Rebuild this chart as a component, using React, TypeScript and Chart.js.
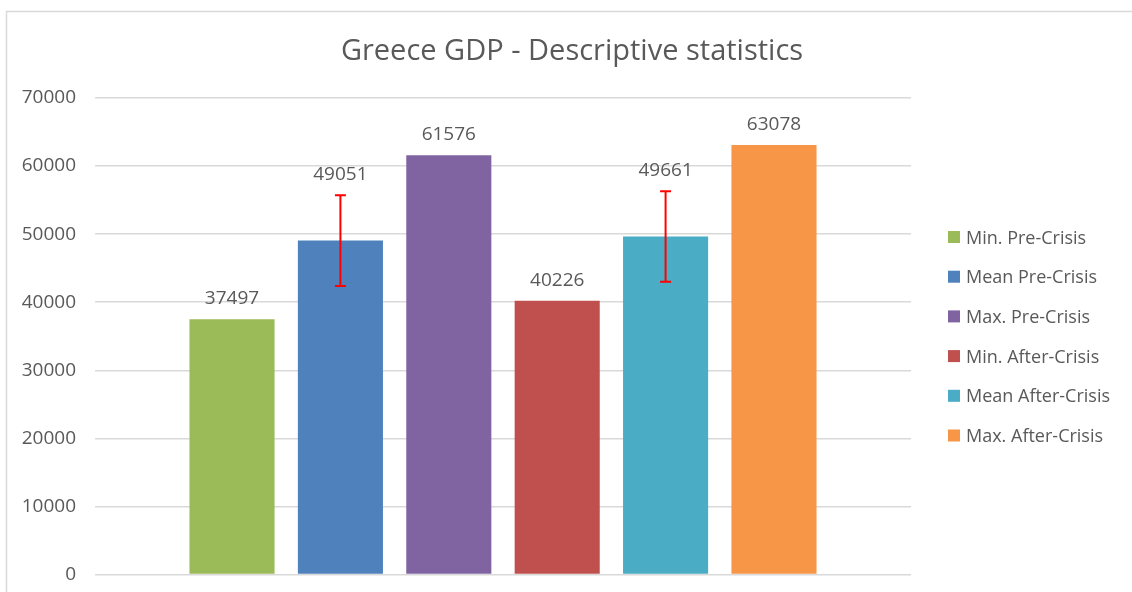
import React, { useEffect, useRef } from "react";
import { Chart, registerables } from "chart.js";

Chart.register(...registerables);

const categories = [""];
const seriesNames = [
  "Min. Pre-Crisis",
  "Mean Pre-Crisis",
  "Max. Pre-Crisis",
  "Min. After-Crisis",
  "Mean After-Crisis",
  "Max. After-Crisis",
];
const seriesValues = [37497, 49051, 61576, 40226, 49661, 63078];
const errorValues = [0, 6670, 0, 0, 6640, 0];
const seriesColors = ["#9BBB59", "#4F81BD", "#8064A2", "#C0504D", "#4BACC6", "#F79646"];
const yMax = 70000;
const yStep = 10000;
const titleText = "Greece GDP - Descriptive statistics";

const FONT = "'Open Sans', 'DejaVu Sans', sans-serif";
const TEXT = "#595959";

const decorPlugin = {
  id: "decor",
  beforeDraw(chart: any) {
    const ctx = chart.ctx;
    ctx.save();
    ctx.fillStyle = "#ffffff";
    ctx.fillRect(0, 0, chart.width, chart.height);
    ctx.strokeStyle = "#d9d9d9";
    ctx.lineWidth = 1.5;
    ctx.beginPath();
    ctx.moveTo(6.5, chart.height);
    ctx.lineTo(6.5, 11.5);
    ctx.lineTo(chart.width, 11.5);
    ctx.stroke();
    ctx.restore();
  },
  afterDatasetsDraw(chart: any) {
    const ctx = chart.ctx;
    const yScale = chart.scales.y;
    ctx.save();
    // error bars
    chart.data.datasets.forEach((ds: any, i: number) => {
      const meta = chart.getDatasetMeta(i);
      const bar = meta.data[0];
      const v = ds.data[0];
      const err = errorValues[i];
      let topY = bar.y;
      if (err > 0) {
        const yHi = yScale.getPixelForValue(v + err);
        const yLo = yScale.getPixelForValue(v - err);
        ctx.strokeStyle = "#FF0000";
        ctx.lineWidth = 2;
        ctx.beginPath();
        ctx.moveTo(bar.x, yHi);
        ctx.lineTo(bar.x, yLo);
        ctx.moveTo(bar.x - 5.5, yHi);
        ctx.lineTo(bar.x + 5.5, yHi);
        ctx.moveTo(bar.x - 5.5, yLo);
        ctx.lineTo(bar.x + 5.5, yLo);
        ctx.stroke();
        topY = Math.min(topY, yHi);
      }
      ctx.fillStyle = TEXT;
      ctx.font = `19px ${FONT}`;
      ctx.textAlign = "center";
      ctx.textBaseline = "alphabetic";
      ctx.fillText(String(v), bar.x, topY - 15);
    });
    // title
    ctx.fillStyle = TEXT;
    ctx.font = `29px ${FONT}`;
    ctx.textAlign = "center";
    ctx.textBaseline = "alphabetic";
    ctx.fillText(titleText, 572, 60);
    // legend
    ctx.font = `18px ${FONT}`;
    ctx.textAlign = "left";
    chart.data.datasets.forEach((ds: any, i: number) => {
      const cy = 237 + i * 39.7;
      ctx.fillStyle = ds.backgroundColor;
      ctx.fillRect(948, cy - 6, 12, 12);
      ctx.fillStyle = TEXT;
      ctx.fillText(ds.label, 966, cy + 6.5);
    });
    ctx.restore();
  },
};

export default function App() {
  const ref = useRef<HTMLCanvasElement | null>(null);
  useEffect(() => {
    if (!ref.current) return;
    const chart = new Chart(ref.current, {
      type: "bar",
      data: {
        labels: categories,
        datasets: seriesNames.map((name, i) => ({
          label: name,
          data: [seriesValues[i]],
          backgroundColor: seriesColors[i],
          borderWidth: 0,
          categoryPercentage: 0.797,
          barPercentage: 0.785,
        })),
      },
      options: {
        animation: false,
        responsive: false,
        layout: { padding: { top: 98, bottom: 17.5, left: 0, right: 221 } },
        plugins: {
          legend: { display: false },
          title: { display: false },
          tooltip: { enabled: false },
        },
        scales: {
          x: { display: false },
          y: {
            min: 0,
            max: yMax,
            ticks: {
              stepSize: yStep,
              padding: 19,
              color: TEXT,
              font: { family: FONT, size: 19 },
              callback: (v: any) => String(v),
            },
            grid: { color: "#d9d9d9", lineWidth: 1.5, drawTicks: false },
            border: { display: false },
            afterFit: (s: any) => {
              s.width = 95;
              s.paddingTop = 0;
              s.paddingBottom = 0;
            },
          },
        },
      },
      plugins: [decorPlugin],
    });
    return () => chart.destroy();
  }, []);
  return (
    <div style={{ position: "absolute", left: 0, top: 0, width: 1132, height: 592 }}>
      <canvas ref={ref} width={1132} height={592} />
    </div>
  );
}
